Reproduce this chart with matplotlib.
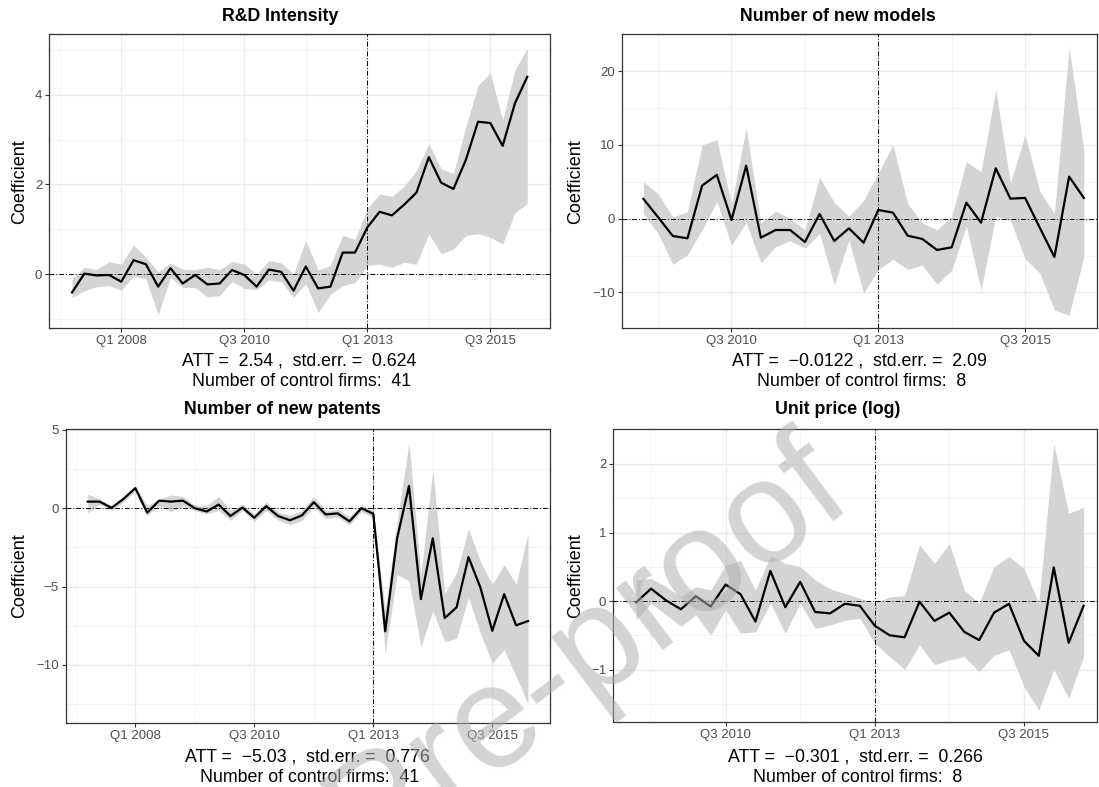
import matplotlib
matplotlib.use("Agg")
import matplotlib.pyplot as plt
import numpy as np

plt.rcParams['font.family'] = ['Liberation Sans', 'DejaVu Sans']

# quarter labels for the two samples
quarters_long = ["Q%d %d" % (q, y) for y in range(2007, 2017) for q in range(1, 5)][:38]   # Q1 2007 .. Q2 2016
quarters_short = ["Q%d %d" % (q, y) for y in range(2009, 2017) for q in range(1, 5)][:31]  # Q1 2009 .. Q3 2016
tick_quarters = ["Q1 2008", "Q3 2010", "Q1 2013", "Q3 2015"]
treat_quarter = "Q1 2013"

# R&D Intensity
rd_coef = [-0.41, 0.01, -0.03, -0.02, -0.17, 0.31, 0.22, -0.28, 0.13, -0.21, -0.02, -0.23, -0.21,
           0.09, -0.02, -0.28, 0.10, 0.05, -0.37, 0.17, -0.32, -0.28, 0.48, 0.48, 1.04, 1.39, 1.31,
           1.55, 1.82, 2.61, 2.04, 1.90, 2.54, 3.40, 3.37, 2.86, 3.81, 4.40]
rd_upper = [-0.11, 0.15, 0.10, 0.28, 0.22, 0.65, 0.37, 0.05, 0.25, 0.11, 0.10, 0.15, 0.10, 0.28,
            0.22, 0.00, 0.30, 0.25, 0.01, 0.75, 0.09, 0.19, 0.87, 0.77, 1.46, 1.79, 1.73, 1.96,
            2.31, 2.91, 2.35, 2.24, 3.28, 4.21, 4.49, 3.43, 4.55, 5.04]
rd_lower = [-0.52, -0.37, -0.28, -0.26, -0.36, -0.04, -0.11, -0.91, -0.07, -0.30, -0.30, -0.51,
            -0.48, -0.16, -0.32, -0.35, -0.13, -0.17, -0.52, -0.21, -0.86, -0.45, -0.26, -0.19,
            0.19, 0.22, 0.15, 0.26, 0.22, 0.90, 0.45, 0.56, 0.86, 0.90, 0.82, 0.67, 1.37, 1.57]

# Number of new models
mod_coef = [2.67, 0.20, -2.35, -2.67, 4.48, 5.93, -0.18, 7.19, -2.58, -1.54, -1.54, -3.17, 0.63,
            -3.03, -1.31, -3.26, 1.18, 0.81, -2.31, -2.76, -4.25, -3.89, 2.17, -0.54, 6.83, 2.71,
            2.81, -1.22, -5.20, 5.70, 2.81]
mod_upper = [5.0, 3.4, 0.2, 0.95, 10.0, 10.7, 2.0, 12.3, -0.6, 1.0, 0.05, -1.5, 5.6, 2.2, 0.3,
             2.5, 6.2, 10.0, 2.1, -0.6, -1.5, 0.3, 7.7, 6.4, 17.5, 4.8, 11.4, 3.7, 0.7, 23.3, 9.3]
mod_lower = [0.7, -2.0, -6.2, -4.9, -1.5, 2.3, -3.6, -0.5, -6.0, -3.8, -3.0, -4.0, -2.0, -9.0,
             -2.9, -10.1, -6.9, -5.5, -6.9, -6.3, -8.9, -7.0, -1.0, -9.7, 0.3, -0.2, -5.4, -7.4,
             -12.4, -13.1, -5.2]

# Number of new patents
pat_coef = [0.42, 0.42, 0.02, 0.59, 1.28, -0.29, 0.48, 0.42, 0.48, 0.00, -0.21, 0.23, -0.50, 0.04,
            -0.61, 0.13, -0.50, -0.77, -0.46, 0.38, -0.40, -0.33, -0.84, 0.00, -0.36, -7.85, -1.92,
            1.42, -5.80, -1.92, -7.01, -6.32, -3.12, -5.06, -7.82, -5.48, -7.47, -7.20]
pat_upper = [0.90, 0.59, 0.17, 0.75, 1.42, 0.17, 0.59, 0.84, 0.75, 0.21, 0.17, 0.75, -0.15, 0.27,
             -0.36, 0.38, -0.25, -0.46, -0.15, 0.75, -0.15, -0.08, -0.50, 0.21, -0.15, -6.50, -0.88,
             4.18, -4.23, 2.47, -5.48, -4.12, -1.30, -3.39, -4.85, -3.60, -4.85, -1.61]
pat_lower = [-0.29, 0.25, -0.15, 0.38, 1.11, -0.46, 0.17, -0.21, 0.13, -0.15, -0.36, -0.15, -0.77,
             -0.15, -0.84, -0.15, -0.77, -1.05, -0.77, 0.06, -0.67, -0.56, -1.09, -0.21, -0.63,
             -9.25, -4.23, -4.64, -8.83, -6.53, -8.51, -8.30, -5.69, -7.99, -9.87, -9.04, -10.71,
             -12.49]

# Unit price (log)
price_coef = [-0.02, 0.18, 0.01, -0.12, 0.07, -0.08, 0.24, 0.10, -0.30, 0.44, -0.09, 0.28, -0.16,
              -0.18, -0.04, -0.07, -0.36, -0.50, -0.53, -0.01, -0.29, -0.17, -0.45, -0.57, -0.17,
              -0.04, -0.58, -0.80, 0.49, -0.61, -0.07]
price_upper = [0.31, 0.33, 0.21, 0.06, 0.21, 0.16, 0.52, 0.59, 0.16, 0.66, 0.55, 0.50, 0.31, 0.18,
               0.11, 0.04, -0.03, 0.06, 0.08, 0.82, 0.55, 0.84, 0.16, -0.03, 0.50, 0.65, 0.48,
               -0.03, 2.30, 1.28, 1.37]
price_lower = [-0.28, -0.03, -0.20, -0.37, -0.20, -0.50, -0.13, -0.47, -0.45, -0.03, -0.47, -0.03,
               -0.40, -0.35, -0.28, -0.25, -0.62, -0.81, -1.00, -0.64, -0.93, -0.86, -0.81, -1.03,
               -0.79, -0.71, -1.25, -1.59, -1.00, -1.42, -0.81]

titles = ["R&D Intensity", "Number of new models", "Number of new patents", "Unit price (log)"]
att_text = ["ATT =  2.54 ,  std.err. =  0.624", "ATT =  \u22120.0122 ,  std.err. =  2.09",
            "ATT =  \u22125.03 ,  std.err. =  0.776", "ATT =  \u22120.301 ,  std.err. =  0.266"]
n_controls = [41, 8, 41, 8]

W, H = 1099, 787
fig = plt.figure(figsize=(W / 100, H / 100), dpi=100)


def fx(x):
    return x / W


def fy(y):
    return 1 - y / H


def draw_panel(box, quarters, coef, lower, upper, xlim, ylim, yticks, yminor,
               title, title_xy, att, nctrl, cap_y, ylab_x):
    left, top, right, bottom = box
    ax = fig.add_axes([fx(left), fy(bottom), (right - left) / W, (bottom - top) / H])
    x = np.arange(len(quarters))
    ax.fill_between(x, lower, upper, color="#d4d4d4", lw=0, zorder=2)
    ax.plot(x, coef, color="black", lw=1.6, zorder=3)
    ax.axhline(0, color="black", lw=0.7, ls=(0, (5, 2, 1, 2)), zorder=4)
    ax.axvline(quarters.index(treat_quarter), color="black", lw=0.7, ls=(0, (5, 2, 1, 2)), zorder=4)

    ticks = [quarters.index(q) for q in tick_quarters if q in quarters]
    ax.set_xticks(ticks)
    ax.set_xticklabels([quarters[t] for t in ticks])
    minor_x = [t - 5 for t in ticks] + [ticks[-1] + 5]
    ax.set_xticks(minor_x, minor=True)
    ax.set_yticks(yticks)
    ax.set_yticklabels([("%g" % v).replace("-", "\u2212") for v in yticks])
    ax.set_yticks(yminor, minor=True)
    ax.set_xlim(*xlim)
    ax.set_ylim(*ylim)

    ax.grid(which="major", color="#ebebeb", lw=1.0, zorder=0)
    ax.grid(which="minor", color="#f2f2f2", lw=0.6, zorder=0)
    ax.set_axisbelow(True)
    ax.tick_params(which="major", length=2.9, width=0.8, color="#333333",
                   labelcolor="#4d4d4d", labelsize=9.5, pad=2.2)
    ax.tick_params(which="minor", length=0)
    for s in ax.spines.values():
        s.set_color("#333333")
        s.set_linewidth(0.9)

    fig.text(fx(title_xy[0]), fy(title_xy[1]), title, fontsize=12.8, fontweight="bold",
             ha="center", va="center")
    mid = (left + right) / 2
    fig.text(fx(mid), fy(cap_y), att, fontsize=12.8, ha="center", va="center")
    fig.text(fx(mid + 2), fy(cap_y + 20), "Number of control firms:  %d" % nctrl,
             fontsize=12.8, ha="center", va="center")
    fig.text(fx(ylab_x), fy((top + bottom) / 2), "Coefficient", fontsize=13,
             rotation=90, ha="center", va="center")
    return ax


draw_panel((49.3, 34.3, 550, 328.3), quarters_long, rd_coef, rd_lower, rd_upper,
           (-1.85, 38.85), (-1.21, 5.35), [0, 2, 4], [-1, 1, 3, 5],
           titles[0], (280, 16.5), att_text[0], n_controls[0], 361, 19.6)
draw_panel((621.7, 34.3, 1097, 328.3), quarters_short, mod_coef, mod_lower, mod_upper,
           (-1.48, 30.9), (-14.87, 25.0), [-10, 0, 10, 20], [-5, 5, 15, 25],
           titles[1], (838, 16.5), att_text[1], n_controls[1], 361, 575.7)
draw_panel((65.7, 429, 550, 722.7), quarters_long, pat_coef, pat_lower, pat_upper,
           (-1.85, 38.85), (-13.68, 5.05), [-10, -5, 0, 5], [-12.5, -7.5, -2.5, 2.5],
           titles[2], (282, 410), att_text[2], n_controls[2], 757, 19.6)
draw_panel((613.3, 428.7, 1097, 722.3), quarters_short, price_coef, price_lower, price_upper,
           (-1.53, 30.9), (-1.77, 2.515), [-1, 0, 1, 2], [-1.5, -0.5, 0.5, 1.5],
           titles[3], (838, 410), att_text[3], n_controls[3], 757, 575.7)

# journal watermark
fig.text(fx(856), fy(505), "Journal Pre-proof", fontsize=105, color="#b0b0b0", alpha=0.55,
         rotation=37, rotation_mode="anchor", ha="right", va="baseline", zorder=10)

fig.savefig("out.png", dpi=100)
